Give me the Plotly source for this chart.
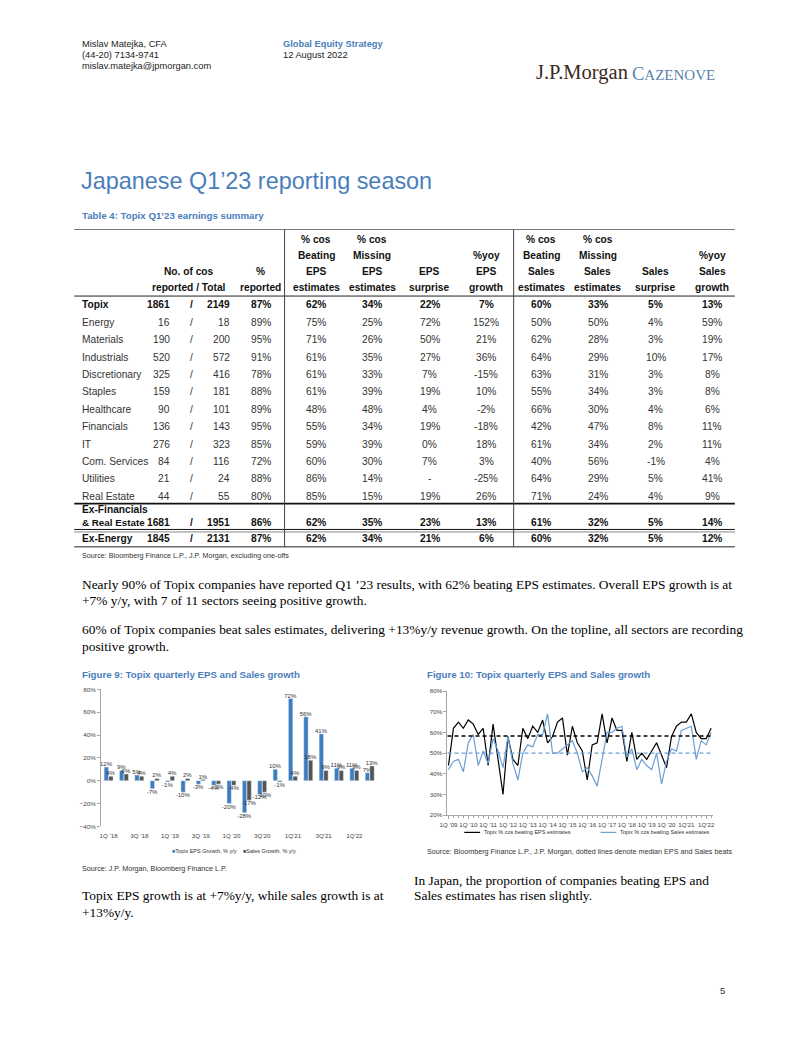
import plotly.graph_objects as go

# page is rendered inside a body with an 8px default margin
OFF = 8
W, H = 802 - OFF, 1037 - OFF
SANS = "Liberation Sans, Arial, sans-serif"
SERIF = "Liberation Serif, Times New Roman, serif"
BLUE_TITLE = "#4a7ebb"

# ---------------- Table data ----------------
sectors = ["Topix", "Energy", "Materials", "Industrials", "Discretionary", "Staples",
           "Healthcare", "Financials", "IT", "Com. Services", "Utilities", "Real Estate",
           "Ex-Financials|& Real Estate", "Ex-Energy"]
reported = [1861, 16, 190, 520, 325, 159, 90, 136, 276, 84, 21, 44, 1681, 1845]
total = [2149, 18, 200, 572, 416, 181, 101, 143, 323, 116, 24, 55, 1951, 2131]
pct_reported = ["87%", "89%", "95%", "91%", "78%", "88%", "89%", "95%", "85%", "72%", "88%", "80%", "86%", "87%"]
beat_eps = ["62%", "75%", "71%", "61%", "61%", "61%", "48%", "55%", "59%", "60%", "86%", "85%", "62%", "62%"]
miss_eps = ["34%", "25%", "26%", "35%", "33%", "39%", "48%", "34%", "39%", "30%", "14%", "15%", "35%", "34%"]
eps_surprise = ["22%", "72%", "50%", "27%", "7%", "19%", "4%", "19%", "0%", "7%", "-", "19%", "23%", "21%"]
eps_growth = ["7%", "152%", "21%", "36%", "-15%", "10%", "-2%", "-18%", "18%", "3%", "-25%", "26%", "13%", "6%"]
beat_sales = ["60%", "50%", "62%", "64%", "63%", "55%", "66%", "42%", "61%", "40%", "64%", "71%", "61%", "60%"]
miss_sales = ["33%", "50%", "28%", "29%", "31%", "34%", "30%", "47%", "34%", "56%", "29%", "24%", "32%", "32%"]
sales_surprise = ["5%", "4%", "3%", "10%", "3%", "3%", "4%", "8%", "2%", "-1%", "5%", "4%", "5%", "5%"]
sales_growth = ["13%", "59%", "19%", "17%", "8%", "8%", "6%", "11%", "11%", "4%", "41%", "9%", "14%", "12%"]
bold_rows = {"Topix", "Ex-Financials|& Real Estate", "Ex-Energy"}

header_cols = [
    ["", "", "%", "reported"],
    ["% cos", "Beating", "EPS", "estimates"],
    ["% cos", "Missing", "EPS", "estimates"],
    ["", "", "EPS", "surprise"],
    ["", "%yoy", "EPS", "growth"],
    ["% cos", "Beating", "Sales", "estimates"],
    ["% cos", "Missing", "Sales", "estimates"],
    ["", "", "Sales", "surprise"],
    ["", "%yoy", "Sales", "growth"],
]

# ---------------- Figure 9 data ----------------
bar_quarters = ["1Q'18", "2Q'18", "3Q'18", "4Q'18", "1Q'19", "2Q'19", "3Q'19", "4Q'19",
                "1Q'20", "2Q'20", "3Q'20", "4Q'20", "1Q'21", "2Q'21", "3Q'21", "4Q'21",
                "1Q'22", "2Q'22"]
bar_ticklabels = ["1Q '18", "3Q '18", "1Q '19", "3Q '19", "1Q '20", "3Q'20", "1Q'21", "3Q'21", "1Q'22"]
eps_growth_q = [12, 9, 5, -7, -1, -10, -3, -4, -20, -28, -12, 10, 72, 56, 41, 11, 11, 7]
sales_growth_q = [4, 6, 4, 2, 4, 2, 1, -3, -4, -17, -10, -1, 4, 18, 9, 9, 9, 13]

# ---------------- Figure 10 data ----------------
line_ticklabels = ["1Q '09", "1Q '10", "1Q '11", "1Q '12", "1Q '13", "1Q '14", "1Q '15",
                   "1Q '16", "1Q '17", "1Q '18", "1Q '19", "1Q '20", "1Q'21", "1Q'22"]
eps_beat_pct = [44, 62, 65, 62, 66, 64, 59, 62, 44, 64, 47, 30, 58, 47, 44, 62, 57, 63, 60, 66,
                55, 58, 65, 67, 49, 63, 55, 51, 37, 54, 55, 69, 55, 67, 61, 61, 46, 60, 47, 50,
                47, 51, 55, 49, 43, 58, 63, 65, 65, 69, 60, 57, 57, 62]
sales_beat_pct = [42, 46, 47, 41, 55, 59, 44, 51, 45, 57, 51, 43, 58, 45, 37, 50, 54, 53, 59, 59,
                  69, 50, 50, 52, 54, 56, 50, 41, 43, 39, 34, 48, 60, 60, 62, 63, 48, 52, 42, 47,
                  44, 42, 50, 35, 46, 52, 51, 61, 62, 63, 47, 56, 54, 60]
eps_median = 58.3
sales_median = 50.0


def X(px):
    return (px - OFF) / W


def Y(py):
    return 1 - (py - OFF) / H


annotations = []
shapes = []


def txt(x, y, text, size, family=SANS, color="#222222", xanchor="left", bold=False):
    if bold:
        text = "<b>" + text + "</b>"
    annotations.append(dict(x=X(x), y=Y(y), xref="paper", yref="paper", text=text,
                            showarrow=False, xanchor=xanchor, yanchor="middle", borderpad=0,
                            font=dict(size=size, family=family, color=color)))


def hline(x0, x1, y, width=1, color="#000000"):
    shapes.append(dict(type="line", xref="paper", yref="paper", x0=X(x0), x1=X(x1),
                       y0=Y(y), y1=Y(y), line=dict(color=color, width=width)))


def vline(x, y0, y1, width=1, color="#000000"):
    shapes.append(dict(type="line", xref="paper", yref="paper", x0=X(x), x1=X(x),
                       y0=Y(y0), y1=Y(y1), line=dict(color=color, width=width)))


# ---------------- Page header ----------------
txt(74, 40, "Mislav Matejka, CFA", 9.3)
txt(74, 51, "(44-20) 7134-9741", 9.3)
txt(74, 62, "mislav.matejka@jpmorgan.com", 9.3)
txt(277, 40, "Global Equity Strategy", 9.3, color=BLUE_TITLE, bold=True)
txt(277, 51, "12 August 2022", 9.3)
txt(534, 69, "J.P.Morgan", 20.5, family=SERIF, color="#3a2a20")
txt(631, 70, "C<span style='font-size:15px'>AZENOVE</span>", 18.5, family=SERIF, color="#5b83ad")

txt(73, 178, "Japanese Q1’23 reporting season", 23.4, color=BLUE_TITLE)
txt(74, 213, "Table 4: Topix Q1’23 earnings summary", 9.7, color=BLUE_TITLE, bold=True)

# ---------------- Table ----------------
TF = 10.2
TBL_L, TBL_R = 67, 736
hdr_y = [237, 253, 269, 285]
hline(TBL_L, TBL_R, 227, 1, "#777777")
hline(TBL_L, TBL_R, 294, 1, "#222222")
col_x = [256, 312, 369, 427, 484, 540, 597, 656, 713]
txt(183, hdr_y[2], "No. of cos", TF, color="#111111", xanchor="center", bold=True)
txt(183, hdr_y[3], "reported / Total", TF, color="#111111", xanchor="center", bold=True)
for cx, lines in zip(col_x, header_cols):
    for yy, t in zip(hdr_y, lines):
        if t:
            txt(cx, yy, t, TF, color="#111111", xanchor="center", bold=True)

row_y = [303, 320.5, 338, 355.5, 373, 390.5, 408, 425.5, 443, 460.5, 478, 495.5, 521.5, 538]
value_cols = [pct_reported, beat_eps, miss_eps, eps_surprise, eps_growth,
              beat_sales, miss_sales, sales_surprise, sales_growth]
for i, name in enumerate(sectors):
    b = name in bold_rows
    col = "#111111" if b else "#333333"
    yy = row_y[i]
    if "|" in name:
        l1, l2 = name.split("|")
        txt(74, yy - 13, l1, TF, color=col, bold=b)
        txt(74, yy, l2, TF - 0.4, color=col, bold=b)
    else:
        txt(74, yy, name, TF, color=col, bold=b)
    txt(165, yy, str(reported[i]), TF, color=col, xanchor="right", bold=b)
    txt(186, yy, "/", TF, color=col, xanchor="center", bold=b)
    txt(226, yy, str(total[i]), TF, color=col, xanchor="right", bold=b)
    for cx, arr in zip(col_x, value_cols):
        txt(cx, yy, arr[i], TF, color=col, xanchor="center", bold=b)

hline(TBL_L, TBL_R, 503, 1.6, "#111111")
hline(TBL_L, TBL_R, 529, 1.0, "#111111")
hline(TBL_L, TBL_R, 531.5, 1.0, "#888888")
hline(TBL_L, TBL_R, 546.5, 1, "#222222")
vline(280, 227, 546.5, 1, "#444444")
vline(512, 227, 546.5, 1, "#444444")
txt(74, 555, "Source: Bloomberg Finance L.P., J.P. Morgan, excluding one-offs", 7.2, color="#333333")

# ---------------- Body text ----------------
BF = 13.4
txt(74, 584, "Nearly 90% of Topix companies have reported Q1 ’23 results, with 62% beating EPS estimates. Overall EPS growth is at", BF, family=SERIF, color="#000000")
txt(74, 601, "+7% y/y, with 7 of 11 sectors seeing positive growth.", BF, family=SERIF, color="#000000")
txt(74, 630, "60% of Topix companies beat sales estimates, delivering +13%y/y revenue growth. On the topline, all sectors are recording", BF, family=SERIF, color="#000000")
txt(74, 647, "positive growth.", BF, family=SERIF, color="#000000")

txt(74, 675, "Figure 9: Topix quarterly EPS and Sales growth", 9.7, color=BLUE_TITLE, bold=True)
txt(423, 675, "Figure 10: Topix quarterly EPS and Sales growth", 9.7, color=BLUE_TITLE, bold=True)

# legends (as text)
txt(165, 853, "<span style='color:#3e7cc0'>■</span>Topix EPS Growth, % y/y", 5.5, color="#333333")
txt(237, 853, "<span style='color:#555555'>■</span>Sales Growth, % y/y", 5.5, color="#333333")
hline(462, 478, 834, 1.2, "#000000")
txt(481, 834, "Topix % cos beating EPS estimates", 5.5, color="#333333")
hline(600, 616, 834, 1.2, "#6a9fd4")
txt(619, 834, "Topix % cos beating Sales estimates", 5.5, color="#333333")

txt(74, 870, "Source: J.P. Morgan, Bloomberg Finance L.P.", 7.2, color="#333333")
txt(423, 853, "Source: Bloomberg Finance L.P., J.P. Morgan, dotted lines denote median EPS and Sales beats", 7.2, color="#333333")

txt(74, 898, "Topix EPS growth is at +7%y/y, while sales growth is at", BF, family=SERIF, color="#000000")
txt(74, 915, "+13%y/y.", BF, family=SERIF, color="#000000")
txt(410, 882, "In Japan, the proportion of companies beating EPS and", BF, family=SERIF, color="#000000")
txt(410, 898, "Sales estimates has risen slightly.", BF, family=SERIF, color="#000000")
txt(727, 993, "5", 9.5, color="#333333", xanchor="right")

# ---------------- Figure 9: bars ----------------
xq = list(range(len(bar_quarters)))
fig = go.Figure()
fig.add_trace(go.Bar(x=xq, y=eps_growth_q, name="Topix EPS Growth, % y/y", marker_color="#3e7cc0",
                     text=[f"{v}%" for v in eps_growth_q], textposition="outside", constraintext="none",
                     textfont=dict(size=6, family=SANS, color="#333333"), cliponaxis=False,
                     xaxis="x", yaxis="y", showlegend=False))
fig.add_trace(go.Bar(x=xq, y=sales_growth_q, name="Sales Growth, % y/y", marker_color="#555555",
                     text=[f"{v}%" for v in sales_growth_q], textposition="outside", constraintext="none",
                     textfont=dict(size=6, family=SANS, color="#333333"), cliponaxis=False,
                     xaxis="x", yaxis="y", showlegend=False))

# ---------------- Figure 10: lines ----------------
xl = list(range(len(eps_beat_pct)))
fig.add_trace(go.Scatter(x=xl, y=eps_beat_pct, mode="lines", line=dict(color="#000000", width=1.2),
                         xaxis="x2", yaxis="y2", showlegend=False))
fig.add_trace(go.Scatter(x=xl, y=sales_beat_pct, mode="lines", line=dict(color="#6a9fd4", width=1.2),
                         xaxis="x2", yaxis="y2", showlegend=False))
shapes.append(dict(type="line", xref="x2 domain", yref="y2", x0=0, x1=1, y0=eps_median, y1=eps_median,
                   line=dict(color="#000000", width=1.5, dash="4px,3px")))
shapes.append(dict(type="line", xref="x2 domain", yref="y2", x0=0, x1=1, y0=sales_median, y1=sales_median,
                   line=dict(color="#6a9fd4", width=1.1, dash="4px,3px")))

tickfont = dict(size=6.2, family=SANS, color="#444444")
zero_y = 782
fig.update_layout(
    width=W, height=H, margin=dict(l=0, r=0, t=0, b=0),
    paper_bgcolor="white", plot_bgcolor="white",
    barmode="group", bargap=0.4, bargroupgap=0.05,
    showlegend=False,
    xaxis=dict(domain=[X(94), X(374)], anchor="y", range=[-0.5, 17.5],
               tickmode="array", tickvals=xq[::2], ticktext=bar_ticklabels, tickangle=0,
               showline=False, ticks="", showgrid=False, zeroline=False, tickfont=tickfont,
               ticklabelstandoff=4),
    yaxis=dict(domain=[Y(828), Y(690)], anchor="x", range=[-40, 80], dtick=20, ticksuffix="%",
               showline=True, linecolor="#a6a6a6", linewidth=1, ticks="outside", ticklen=3,
               tickcolor="#a6a6a6", showgrid=False, zeroline=False, tickfont=tickfont),
    xaxis3=dict(overlaying="x", anchor="free", position=Y(zero_y), range=[-0.5, 17.5],
                tickmode="array", tickvals=[k + 0.5 for k in xq[:-1]], ticks="outside", ticklen=3,
                tickcolor="#a6a6a6", showticklabels=False, showline=True, linecolor="#a6a6a6",
                linewidth=1, showgrid=False, zeroline=False),
    xaxis2=dict(domain=[X(445), X(714)], anchor="y2", range=[-0.2, 53.4],
                tickmode="array", tickvals=xl[::4], ticktext=line_ticklabels, tickangle=0,
                showline=True, linecolor="#a6a6a6", linewidth=1, ticks="outside", ticklen=3,
                tickcolor="#a6a6a6", showgrid=False, zeroline=False, tickfont=tickfont,
                minor=dict(dtick=1, tick0=0, ticks="outside", ticklen=2, tickcolor="#a6a6a6")),
    yaxis2=dict(domain=[Y(816.7), Y(691.7)], anchor="x2", range=[20, 80], dtick=10, ticksuffix="%",
                showline=True, linecolor="#a6a6a6", linewidth=1, ticks="outside", ticklen=3,
                tickcolor="#a6a6a6", showgrid=False, zeroline=False, tickfont=tickfont),
    annotations=annotations, shapes=shapes,
)
fig.write_html("out.html")
